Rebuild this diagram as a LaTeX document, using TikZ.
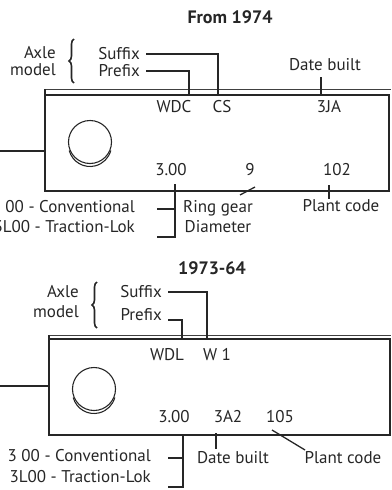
\documentclass[tikz,border=0pt]{standalone}
\usepackage{fontspec}
\setmainfont{PT Sans}
\usepackage{tikz}
\usetikzlibrary{calc, decorations.pathreplacing}

\begin{document}
\begin{tikzpicture}[
    x=1pt, y=-1pt,
    every node/.style={inner sep=1pt, text=black!85, font=\fontsize{17}{20}\selectfont},
    title/.style={font=\fontsize{18}{20}\selectfont\bfseries},
    leader/.style={line width=1.3pt, color=black!85},
    plate/.style={line width=1.8pt, color=black!85},
    rim/.style={line width=0.8pt, color=black!75},
    hub/.style={circle, draw=black!85, line width=1.1pt, minimum size=43pt},
    curly/.style={decorate, decoration={brace, amplitude=5pt}, line width=1.6pt, color=black!85}
]
\useasboundingbox (0,0) rectangle (391,490);
\clip (0,0) rectangle (391,490);

% Desde 1974
\node[title] (yr1) at (230,17) {From 1974};
\node[anchor=east] (axle1) at (57,53) {Axle};
\node[anchor=east] (model1) at (57,70) {model};
\draw[curly] (74,83) -- (74,39);
\node[anchor=east] (sfx1) at (141,54) {Suffix};
\node[anchor=east] (pfx1) at (141,71) {Prefix};
\node (date1) at (325,65) {Date built};

% Placa
\coordinate (p1a) at (45,95);
\coordinate (p1b) at (389,191);
\draw[rim] (45,89) -- (391,89);
\draw[plate] (p1a) rectangle (p1b);
\draw[plate] (p1a) -- ++(0,-6);
\draw[plate] (p1a |- 0,151) -- (0,151);
\node[hub] (hub1) at (90,142) {};
\draw[line width=1.1pt, black!85] ([yshift=-3pt]hub1.center) ++(-165:21.5pt) arc[start angle=-165, end angle=-15, radius=21.5pt];

\node (wdc1) at (174,107) {WDC};
\node (cs1) at (222,107) {CS};
\node (ja1) at (329,107) {3JA};
\node (dia1) at (171,170) {3.00};
\node (rg1) at (250,170) {9};
\node (pl1) at (337,170) {102};

% Lineas
\coordinate (sfxend1) at (218,95);
\coordinate (pfxend1) at (189,95);
\coordinate (dateend1) at (321,95);
\draw[leader] ([xshift=5pt]sfx1.east) -| (sfxend1);
\draw[leader] ([xshift=5pt]pfx1.east) -| (pfxend1);
\draw[leader] (dateend1) -- ++(0,-18);

\node[anchor=east] (conv1) at (136,207) {3 00 - Conventional};
\node[anchor=east] (trac1) at (136,227) {3L00 - Traction-Lok};
\node[align=center] (gear1) at (218,217) {Ring gear\\Diameter};
\node (pc1) at (341,206) {Plant code};

\coordinate (cvtop1) at (175,184);
\coordinate (cvmid1) at (157,209);
\coordinate (cvbot1) at (157,237);
\draw[leader] (cvtop1) |- (cvbot1);
\draw[leader] (cvmid1) -- (cvmid1 -| cvtop1);
\coordinate (gtick1) at (240,195);
\draw[leader] (gtick1) -- ++(15,-8);
\coordinate (pctick1) at (329,185);
\draw[leader] (pctick1) -- (pctick1 |- pc1.north);

% 1973-64
\node[title] (yr2) at (212,268) {1973-64};
\node[anchor=east] (axle2) at (80,292) {Axle};
\node[anchor=east] (model2) at (80,312) {model};
\draw[curly] (97,328) -- (97,282);
\node[anchor=east] (sfx2) at (163,292) {Suffix};
\node[anchor=east] (pfx2) at (163,315) {Prefix};

% Placa
\coordinate (p2a) at (49,339);
\coordinate (p2b) at (390,435);
\draw[rim] (49,335) -- (391,335);
\draw[plate] (p2a) rectangle (p2b);
\draw[plate] (p2a) -- ++(0,-4);
\draw[plate] (p2a |- 0,386) -- (0,386);
\node[hub] (hub2) at (94,389) {};
\draw[line width=1.1pt, black!85] ([yshift=-3pt]hub2.center) ++(-165:21.5pt) arc[start angle=-165, end angle=-15, radius=21.5pt];

\node (wdl2) at (167,355) {WDL};
\node (w2) at (217,355) {W 1};
\node (dia2) at (174,417) {3.00};
\node (a2) at (228,417) {3A2};
\node (pl2) at (280,417) {105};

% Lineas
\coordinate (sfxend2) at (207,339);
\coordinate (pfxend2) at (182,339);
\draw[leader] ([xshift=5pt]sfx2.east) -| (sfxend2);
\draw[leader] ([xshift=5pt,yshift=-5pt]pfx2.east) -| (pfxend2);

\node[anchor=east] (conv2) at (152,456) {3 00 - Conventional};
\node[anchor=east] (trac2) at (152,477) {3L00 - Traction-Lok};
\node (date2) at (233,458) {Date built};
\node (pc2) at (343,458) {Plant code};

\coordinate (cvtop2) at (183,435);
\coordinate (cvmid2) at (168,458);
\coordinate (cvbot2) at (168,487);
\draw[leader] (cvtop2) |- (cvbot2);
\draw[leader] (cvmid2) -- (cvmid2 -| cvtop2);
\coordinate (dtick2) at (216,433);
\draw[leader] (dtick2) -- ++(0,16);
\coordinate (ptick2) at (272,430);
\draw[leader] (ptick2) -- (305,450);

\end{tikzpicture}
\end{document}
